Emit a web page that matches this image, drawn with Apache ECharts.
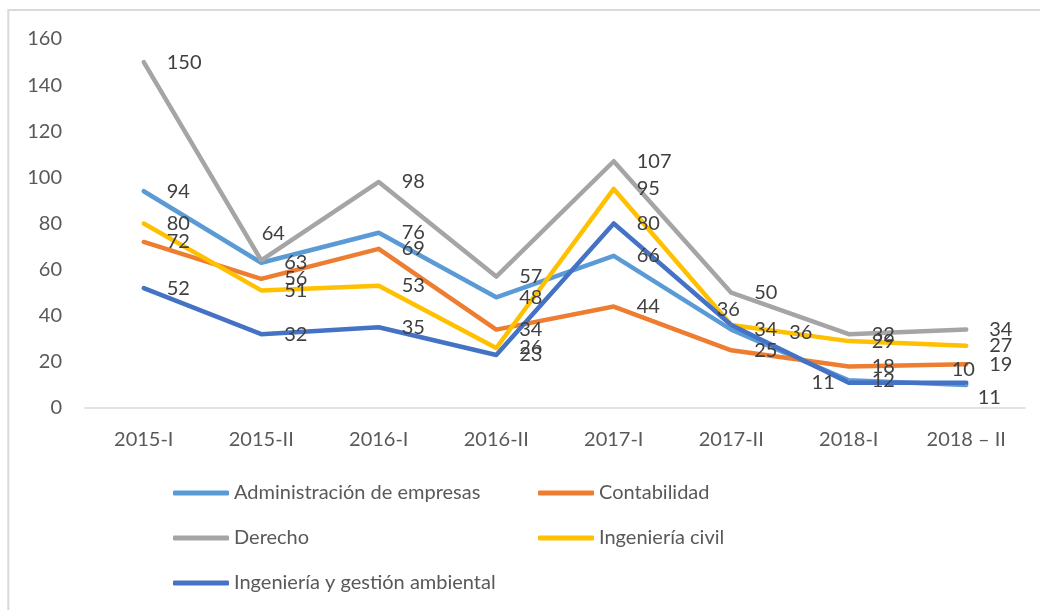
<!DOCTYPE html>
<html>
<head>
<meta charset="utf-8">
<script src="https://cdn.jsdelivr.net/npm/echarts@6/dist/echarts.min.js"></script>
<style>
html,body{margin:0;padding:0;background:#fff;}
#chart{width:1040px;height:610px;}
</style>
</head>
<body>
<div id="chart"></div>
<script>
const categories = ['2015-I', '2015-II', '2016-I', '2016-II', '2017-I', '2017-II', '2018-I', '2018 – II'];
const seriesNames = ['Administración de empresas', 'Contabilidad', 'Derecho', 'Ingeniería civil', 'Ingeniería y gestión ambiental'];
const administracion = [94, 63, 76, 48, 66, 34, 12, 10];
const contabilidad = [72, 56, 69, 34, 44, 25, 18, 19];
const derecho = [150, 64, 98, 57, 107, 50, 32, 34];
const ingenieriaCivil = [80, 51, 53, 26, 95, 36, 29, 27];
const ingenieriaAmbiental = [52, 32, 35, 23, 80, 36, 11, 11];
const yTicks = [0, 20, 40, 60, 80, 100, 120, 140, 160];

const colors = ['#5B9BD5', '#ED7D31', '#A5A5A5', '#FFC000', '#4472C4'];
const FONT = 'Lato, "Open Sans", sans-serif';
const allValues = [administracion, contabilidad, derecho, ingenieriaCivil, ingenieriaAmbiental];

// label placement adjustments (series index -> point index -> label style)
const labelAdjust = {
  2: { 1: { position: 'top', distance: 5, offset: [12, -11] } },
  3: { 5: { position: 'top', distance: 4, offset: [-3, 0] } },
  4: { 5: { position: 'right', distance: 57, offset: [0, 8] },
       6: { position: 'left', distance: 13 },
       7: { position: 'bottom', distance: 4, offset: [23, 0] } },
  0: { 7: { position: 'top', distance: 4, offset: [-3, 0] } }
};

const series = allValues.map((vals, si) => ({
  name: seriesNames[si],
  type: 'line',
  data: vals.map((v, i) => {
    const adj = labelAdjust[si] && labelAdjust[si][i];
    return adj ? { value: v, label: adj } : v;
  }),
  symbol: 'circle',
  symbolSize: 2,
  itemStyle: { color: colors[si] },
  lineStyle: { color: colors[si], width: 4.5, cap: 'round', join: 'round' },
  label: {
    show: true,
    position: 'right',
    distance: 22,
    fontFamily: FONT,
    fontSize: 20,
    color: '#404040'
  },
  emphasis: { disabled: true },
  animation: false
}));

const legendPos = [
  { left: 173, top: 483 },
  { left: 538, top: 483 },
  { left: 173, top: 528 },
  { left: 538, top: 528 },
  { left: 173, top: 573 }
];
const legends = seriesNames.map((n, i) => ({
  data: [n],
  left: legendPos[i].left,
  top: legendPos[i].top,
  padding: 0,
  icon: 'roundRect',
  itemWidth: 56,
  itemHeight: 5,
  selectedMode: false,
  textStyle: { fontFamily: FONT, fontSize: 20, color: '#595959' }
}));

const chart = echarts.init(document.getElementById('chart'), null, { renderer: 'canvas' });
chart.setOption({
  backgroundColor: '#ffffff',
  animation: false,
  graphic: [{
    type: 'rect',
    shape: { x: 8.3, y: 10, width: 1200, height: 800 },
    style: { fill: 'none', stroke: '#d9d9d9', lineWidth: 2 },
    silent: true
  }],
  grid: { left: 85, right: 15, top: 39, bottom: 202, containLabel: false },
  legend: legends,
  xAxis: {
    type: 'category',
    data: categories,
    boundaryGap: true,
    axisLine: { lineStyle: { color: '#d9d9d9', width: 1.5 } },
    axisTick: { show: false },
    axisLabel: { fontFamily: FONT, fontSize: 20, color: '#595959', margin: 22 },
    splitLine: { show: false }
  },
  yAxis: {
    type: 'value',
    min: yTicks[0],
    max: yTicks[yTicks.length - 1],
    interval: yTicks[1] - yTicks[0],
    axisLine: { show: false },
    axisTick: { show: false },
    axisLabel: { fontFamily: FONT, fontSize: 20, color: '#595959', margin: 23 },
    splitLine: { show: false }
  },
  series: series
});
</script>
</body>
</html>
